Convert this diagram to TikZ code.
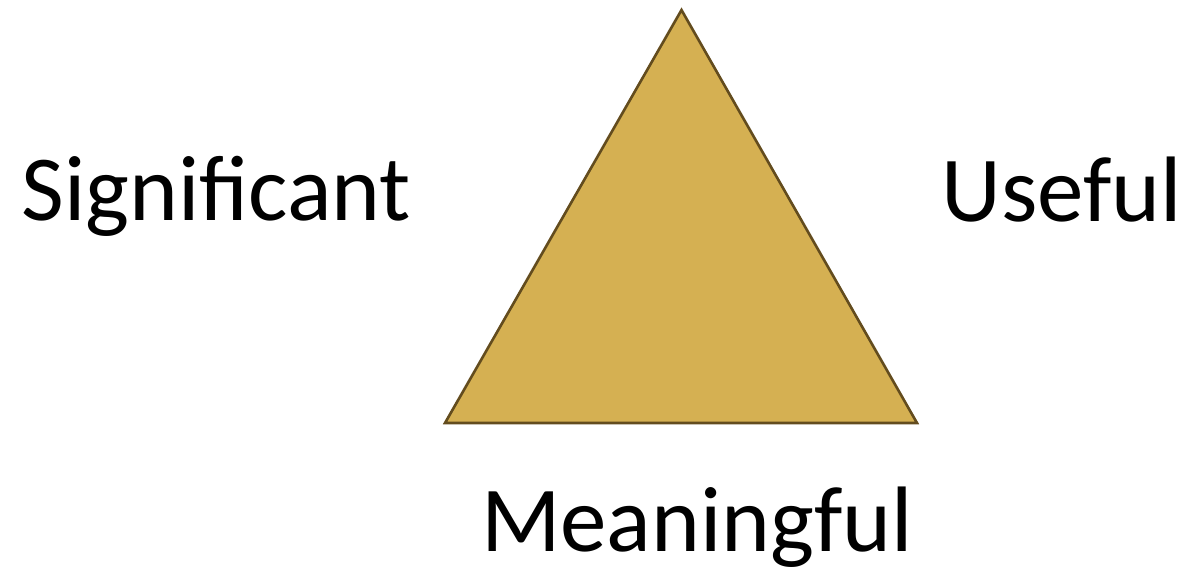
\documentclass[tikz,border=0pt]{standalone}
\usepackage{fontspec}
\setmainfont{Carlito}
\definecolor{trifill}{HTML}{D5B052}
\definecolor{triline}{HTML}{634C1E}
\begin{document}
\begin{tikzpicture}[x=1pt,y=-1pt,
  lbl/.style={inner sep=0pt,anchor=base,font=\fontsize{93}{100}\selectfont}]
\useasboundingbox (0,0) rectangle (1189,567);
\coordinate (apex) at (681.5,10);
\coordinate (bl) at (445,423);
\coordinate (br) at (917,423);
\draw[fill=trifill,draw=triline,line width=2.6pt,line join=miter] (apex) -- (br) -- (bl) -- cycle;
\node[lbl] (sig) at (216.5,220) {Significant};
\node[lbl] (use) at (1061.5,221) {Useful};
\node[lbl] (mea) at (697,551) {Meaningful};
\end{tikzpicture}
\end{document}
